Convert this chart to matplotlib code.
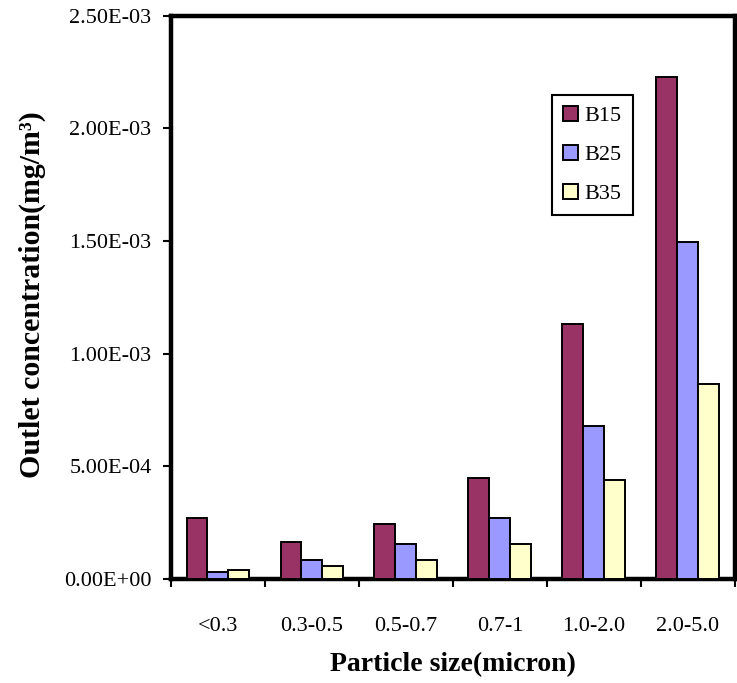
import matplotlib
matplotlib.use("Agg")
import matplotlib.pyplot as plt
from matplotlib.ticker import FuncFormatter, FixedLocator
import numpy as np

categories = ["<0.3", "0.3-0.5", "0.5-0.7", "0.7-1", "1.0-2.0", "2.0-5.0"]
b15 = [2.70e-4, 1.64e-4, 2.44e-4, 4.49e-4, 1.133e-3, 2.227e-3]
b25 = [3.1e-5, 8.4e-5, 1.56e-4, 2.71e-4, 6.80e-4, 1.498e-3]
b35 = [4.0e-5, 5.8e-5, 8.4e-5, 1.56e-4, 4.40e-4, 8.67e-4]
series = [("B15", b15, "#993366"), ("B25", b25, "#9999FF"), ("B35", b35, "#FFFFCC")]

plt.rcParams["font.family"] = ["Liberation Serif", "DejaVu Serif"]

fig = plt.figure(figsize=(7.37, 6.83), dpi=100)
ax = fig.add_axes([0.232, 0.152, 0.765, 0.825])

x = np.arange(len(categories))
w = 0.223
for k, (name, vals, col) in enumerate(series):
    ax.bar(x + (k - 1) * w, vals, width=w, color=col, edgecolor="black",
           linewidth=1.4, label=name, zorder=3)

ax.set_xlim(-0.5, len(categories) - 0.5)
ax.set_ylim(0, 2.5e-3)
ax.set_yticks(np.arange(0, 2.51e-3, 5e-4))
ax.yaxis.set_major_formatter(FuncFormatter(lambda v, p: f"{v:.2E}"))

# category boundaries get tick marks, centres get the labels
bounds = np.arange(-0.5, len(categories), 1.0)
ax.xaxis.set_major_locator(FixedLocator(bounds))
ax.xaxis.set_minor_locator(FixedLocator(x))
ax.set_xticklabels([""] * len(bounds))
ax.set_xticklabels(categories, minor=True)
ax.tick_params(axis="x", which="major", length=6, width=1.5, direction="out")
ax.tick_params(axis="x", which="minor", length=0, pad=27, labelsize=16)
ax.tick_params(axis="y", length=6, width=1.5, direction="out", labelsize=16, pad=8)

for s in ax.spines.values():
    s.set_linewidth(3.2)
    s.set_color("black")

ax.set_xlabel("Particle size(micron)", fontsize=20, fontweight="bold", labelpad=12)
ax.set_ylabel("Outlet concentration(mg/m³)", fontsize=21.5, fontweight="bold")
ax.yaxis.set_label_coords(-0.222, 0.505)

leg = ax.legend(loc="upper left", bbox_to_anchor=(0.676, 0.860), borderaxespad=0,
                fontsize=16, frameon=True, fancybox=False, framealpha=1,
                edgecolor="black", handlelength=0.65, handleheight=0.65,
                handletextpad=0.3, labelspacing=0.85, borderpad=0.5)
leg.get_frame().set_linewidth(1.5)

fig.savefig("out.png", dpi=100)
